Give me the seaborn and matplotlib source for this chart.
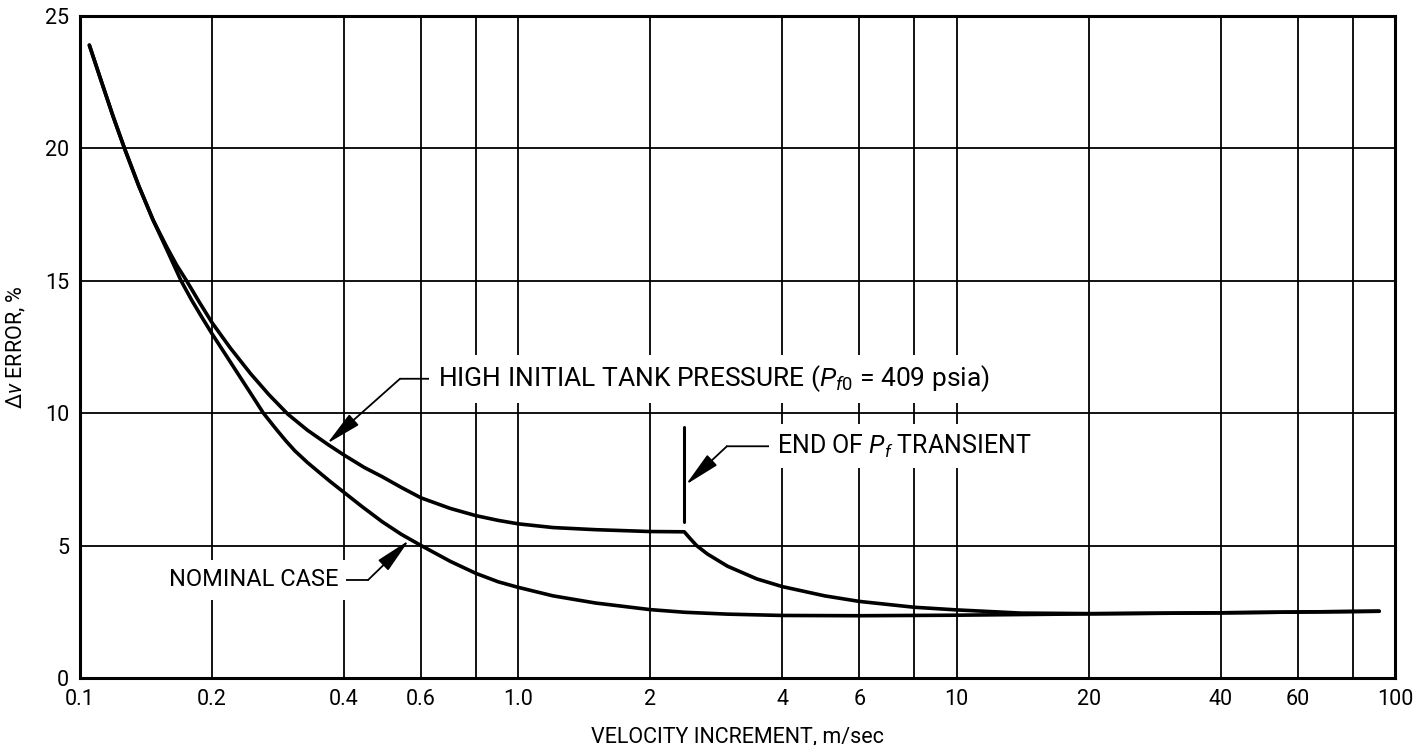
import matplotlib
matplotlib.use('Agg')
import pandas as pd
import matplotlib.pyplot as plt
import seaborn as sns
from matplotlib.ticker import FixedLocator, FixedFormatter, NullLocator

# values
nominal_x = [0.105, 0.112, 0.119, 0.1263, 0.136, 0.1467, 0.158, 0.17, 0.18, 0.19, 0.2,
             0.215, 0.23, 0.245, 0.262, 0.28, 0.295, 0.309, 0.33, 0.355, 0.374, 0.4,
             0.44, 0.489, 0.54, 0.6, 0.7, 0.8, 0.9, 1.0, 1.2, 1.5, 2.0, 2.4, 3.0, 4.0,
             6.0, 10, 20, 40, 60, 92]
nominal_y = [23.9, 22.5, 21.2, 20.0, 18.6, 17.3, 16.15, 15.0, 14.25, 13.6, 13.0,
             12.2, 11.45, 10.75, 10.0, 9.4, 8.95, 8.58, 8.14, 7.7, 7.39, 7.01,
             6.47, 5.9, 5.43, 5.0, 4.4, 3.95, 3.63, 3.42, 3.1, 2.83, 2.58, 2.48, 2.41, 2.36,
             2.35, 2.37, 2.42, 2.46, 2.49, 2.52]

high_x = [0.105, 0.112, 0.119, 0.1263, 0.136, 0.1467, 0.158, 0.166, 0.175, 0.187, 0.2,
          0.22, 0.245, 0.27, 0.298, 0.33, 0.369, 0.4, 0.445, 0.489, 0.54, 0.6, 0.7,
          0.8, 0.9, 1.0, 1.2, 1.5, 2.0, 2.39, 2.47, 2.55, 2.7, 3.0, 3.5, 4.0, 5.0, 6.0,
          8.0, 10, 14, 20, 40, 60, 92]
high_y = [23.9, 22.5, 21.2, 20.0, 18.6, 17.3, 16.25, 15.6, 15.0, 14.2, 13.42,
          12.47, 11.49, 10.69, 9.96, 9.36, 8.8, 8.42, 7.95, 7.6, 7.2, 6.8, 6.4,
          6.13, 5.95, 5.82, 5.68, 5.6, 5.53, 5.52, 5.25, 5.0, 4.68, 4.22, 3.74, 3.45, 3.1, 2.89,
          2.67, 2.57, 2.45, 2.43, 2.46, 2.49, 2.52]

grid_x = [0.1, 0.2, 0.4, 0.6, 0.8, 1.0, 2, 4, 6, 8, 10, 20, 40, 60, 80, 100]
grid_x_labels = ['0.1', '0.2', '0.4', '0.6', '', '1.0', '2', '4', '6', '', '10',
                 '20', '40', '60', '', '100']
y_ticks = [0, 5, 10, 15, 20, 25]

transient_x = 2.39

df = pd.concat([
    pd.DataFrame({'v': nominal_x, 'err': nominal_y, 'case': 'nominal'}),
    pd.DataFrame({'v': high_x, 'err': high_y, 'case': 'high'}),
])

sns.set_style('white')
plt.rcParams['font.family'] = ['Roboto', 'DejaVu Sans']
plt.rcParams['mathtext.fontset'] = 'custom'
plt.rcParams['mathtext.rm'] = 'Roboto'
plt.rcParams['mathtext.it'] = 'Roboto:italic'
plt.rcParams['text.color'] = 'black'
plt.rcParams['axes.labelcolor'] = 'black'
plt.rcParams['xtick.color'] = 'black'
plt.rcParams['ytick.color'] = 'black'

fig, ax = plt.subplots(figsize=(14.17, 7.45), dpi=100)
fig.subplots_adjust(left=0.0565, right=0.9845, top=0.9785, bottom=0.09)

sns.lineplot(data=df, x='v', y='err', hue='case',
             palette={'nominal': 'black', 'high': 'black'},
             estimator=None, linewidth=2.6, legend=False, ax=ax, zorder=3)

ax.set_xscale('log')
ax.set_xlim(0.1, 100)
ax.set_ylim(0, 25)
ax.xaxis.set_major_locator(FixedLocator(grid_x))
ax.xaxis.set_major_formatter(FixedFormatter(grid_x_labels))
ax.xaxis.set_minor_locator(NullLocator())
ax.set_yticks(y_ticks)
ax.grid(True, color='black', linewidth=1.3)
ax.tick_params(length=0, labelsize=15.5, pad=8)
for s in ax.spines.values():
    s.set_color('black')
    s.set_linewidth(2.2)

ax.set_xlabel('VELOCITY INCREMENT, m/sec', fontsize=15.5, labelpad=12)
ax.set_ylabel(r'$\Delta\mathit{v}$ ERROR, %', fontsize=15.5, labelpad=12)

box = dict(facecolor='white', edgecolor='none', pad=6)
arrow = dict(arrowstyle='-|>,head_length=1.1,head_width=0.22', color='black',
             linewidth=1.3, mutation_scale=20, shrinkA=0, shrinkB=0)
plain = dict(arrowstyle='-', color='black', linewidth=1.3, shrinkA=0, shrinkB=0)

# high initial tank pressure
ax.text(0.655, 11.3, r'HIGH INITIAL TANK PRESSURE ($P_{f\mathrm{0}}$ = 409 psia)',
        fontsize=19, va='center', ha='left', bbox=box, zorder=4)
ax.annotate('', xy=(0.537, 11.3), xytext=(0.64, 11.3), arrowprops=plain)
ax.annotate('', xy=(0.366, 8.85), xytext=(0.537, 11.3), arrowprops=arrow)

# end of transient
ax.plot([transient_x, transient_x], [5.9, 9.47], color='black', linewidth=2.2)
ax.text(3.9, 8.75, r'END OF $P_f$ TRANSIENT', fontsize=18, va='center', ha='left',
        bbox=box, zorder=4)
ax.annotate('', xy=(2.99, 8.75), xytext=(3.85, 8.75), arrowprops=plain)
ax.annotate('', xy=(2.41, 7.3), xytext=(2.99, 8.75), arrowprops=arrow)

# nominal case
ax.text(0.388, 3.7, 'NOMINAL CASE', fontsize=17, va='center', ha='right',
        bbox=box, zorder=4)
ax.annotate('', xy=(0.454, 3.7), xytext=(0.394, 3.7), arrowprops=plain)
ax.annotate('', xy=(0.563, 5.2), xytext=(0.454, 3.7), arrowprops=arrow)

fig.savefig('out.png', dpi=100)
